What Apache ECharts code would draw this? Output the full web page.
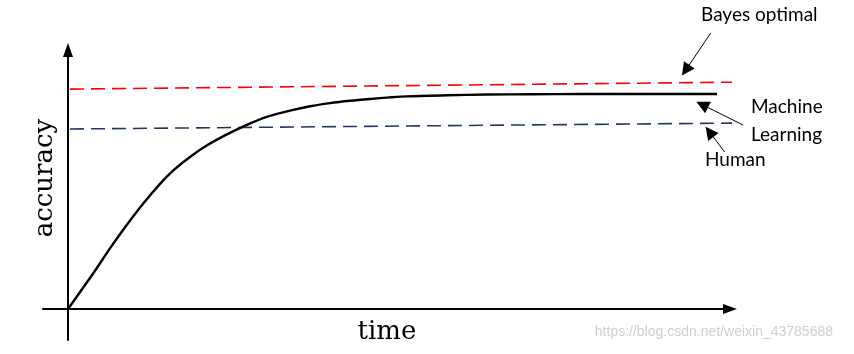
<!DOCTYPE html>
<html><head><meta charset="utf-8">
<script src="https://cdn.jsdelivr.net/npm/echarts@6/dist/echarts.min.js"></script>
<style>html,body{margin:0;padding:0;background:#fff}#c{width:854px;height:354px}</style>
</head><body><div id="c"></div>
<script>
// learning curve (time, accuracy)
const mlCurve = [[0,0],[3.82,13.8],[6.34,23.4],[8.87,32.4],[11.37,40.7],[13.9,48.3],[15.91,53.5],[18.43,58.7],[20.95,63.1],[24.0,67.4],[27.02,71.1],[30.02,74.2],[33.53,76.6],[36.56,78.3],[39.58,79.5],[42.6,80.4],[45.62,81.1],[48.64,81.7],[51.16,82.1],[57.25,82.5],[63.29,82.8],[70.0,82.9],[77.34,83.0],[87.0,83.0],[98.04,83.0]];
const bayesLine = [[0.3,84.9],[101.5,87.6]];
const humanLine = [[0.3,69.5],[101.5,71.8]];
// annotation arrows [from, to] in data coords
const arrows = [
  [[97.1,106.6],[93.3,92.2]],
  [[102.0,71.0],[95.8,78.9]],
  [[99.2,60.6],[96.9,68.4]]
];
const xName = 'time', yName = 'accuracy';
const labels = ['Bayes optimal','Machine','Learning','Human'];

const chart = echarts.init(document.getElementById('c'));
const annoFont = 'Lato, "Open Sans", sans-serif';
chart.setOption({
  animation:false,
  grid:{left:43, top:50, width:687, height:290, containLabel:false},
  xAxis:{type:'value', min:-3.776, max:100,
    axisLine:{onZero:true, symbol:['none','triangle'], symbolSize:[10,14], lineStyle:{color:'#000', width:2}},
    axisTick:{show:false}, axisLabel:{show:false}, splitLine:{show:false}},
  yAxis:{type:'value', min:-11.97, max:100,
    axisLine:{onZero:true, symbol:['none','triangle'], symbolSize:[10,14], lineStyle:{color:'#000', width:2}},
    axisTick:{show:false}, axisLabel:{show:false}, splitLine:{show:false}},
  series:[
    {type:'line', data:bayesLine, showSymbol:false, clip:false,
      lineStyle:{color:'#ff0000', width:1.6, type:[14,7]}},
    {type:'line', data:humanLine, showSymbol:false, clip:false,
      lineStyle:{color:'#203864', width:1.6, type:[14,7]}},
    {type:'line', data:mlCurve, showSymbol:false, smooth:0.3, clip:false,
      lineStyle:{color:'#000', width:2.4}},
    {type:'lines', coordinateSystem:'cartesian2d', clip:false, silent:true,
      symbol:['none','triangle'], symbolSize:[10,13],
      lineStyle:{color:'#000', width:1, opacity:1},
      data: arrows.map(a=>({coords:[a[0],a[1]]}))}
  ],
  graphic:[
    {type:'text', x:701, y:15, style:{text:labels[0], font:'19px '+annoFont, fill:'#000', verticalAlign:'middle'}},
    {type:'text', x:751, y:107, style:{text:labels[1], font:'19px '+annoFont, fill:'#000', verticalAlign:'middle'}},
    {type:'text', x:751, y:135, style:{text:labels[2], font:'19px '+annoFont, fill:'#000', verticalAlign:'middle'}},
    {type:'text', x:705, y:160, style:{text:labels[3], font:'19px '+annoFont, fill:'#000', verticalAlign:'middle'}},
    {type:'text', x:387, y:332, style:{text:xName, font:'26px "DejaVu Serif", serif', fill:'#000', align:'center', verticalAlign:'middle'}},
    {type:'text', x:45, y:178, rotation:Math.PI/2, style:{text:yName, font:'26px "DejaVu Serif", serif', fill:'#000', align:'center', verticalAlign:'middle'}},
    {type:'text', x:833, y:332, style:{text:'https://blog.csdn.net/weixin_43785688', font:'14px "Liberation Sans", Arial, sans-serif', fill:'#cfcfcf', align:'right', verticalAlign:'middle'}}
  ]
});
</script></body></html>
